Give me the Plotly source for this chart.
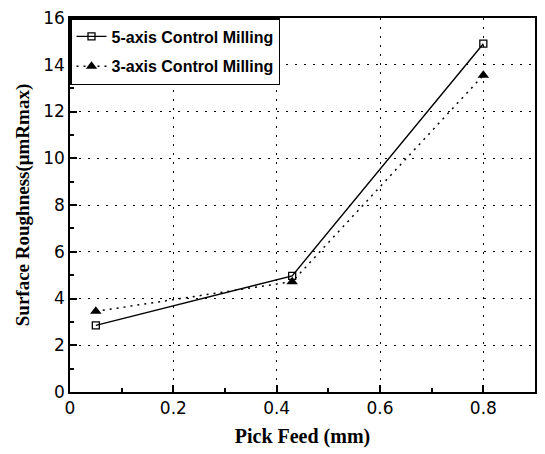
import plotly.graph_objects as go

pick_feed = [0.05, 0.43, 0.80]
rough_5axis = [2.85, 4.97, 14.9]
rough_3axis = [3.45, 4.72, 13.55]

x_ticks = [0, 0.2, 0.4, 0.6, 0.8]
x_tick_labels = ["0", "0.2", "0.4", "0.6", "0.8"]
y_ticks = [0, 2, 4, 6, 8, 10, 12, 14, 16]

fig = go.Figure()
fig.add_trace(go.Scatter(
    x=pick_feed, y=rough_5axis, mode="lines+markers",
    name="5-axis Control Milling", legendgroup="a",
    line=dict(color="black", width=1.4),
    marker=dict(symbol="square-open", size=7, color="black", line=dict(width=1.3)),
))
fig.add_trace(go.Scatter(
    x=pick_feed, y=rough_3axis, mode="lines+markers",
    name="3-axis Control Milling", legendgroup="b",
    line=dict(color="black", width=1.5, dash="2px,5px"),
    marker=dict(symbol="triangle-up", size=10, color="black"),
))

axis_common = dict(
    showline=True, linecolor="black", linewidth=1.5, mirror=True,
    ticks="inside", ticklen=7, tickwidth=1.5, tickcolor="black",
    showgrid=True, gridcolor="black", gridwidth=1, griddash="2px,7px",
    zeroline=False,
    tickfont=dict(family="DejaVu Sans, sans-serif", size=17, color="black"),
)

x_title_font = dict(family="Liberation Serif, Times New Roman, serif", size=20, color="black")
y_title_font = dict(family="Liberation Serif, Times New Roman, serif", size=19, color="black")

fig.update_xaxes(
    range=[0, 0.9], tickvals=x_ticks, ticktext=x_tick_labels,
    minor=dict(dtick=0.1, ticks="inside", ticklen=4, tickcolor="black", showgrid=False),
    title=dict(text="<b>Pick Feed (mm)</b>", standoff=12, font=x_title_font),
    **axis_common,
)
fig.update_yaxes(
    range=[0, 16], tickvals=y_ticks,
    minor=dict(dtick=1, ticks="inside", ticklen=4, tickcolor="black", showgrid=False),
    title=dict(text="<b>Surface Roughness(μmRmax)</b>", standoff=9, font=y_title_font),
    **axis_common,
)

fig.update_layout(
    width=545, height=454,
    margin=dict(l=70, r=8, t=14, b=62),
    paper_bgcolor="white", plot_bgcolor="white",
    showlegend=True,
    legend=dict(
        x=0, y=1, xanchor="left", yanchor="top",
        bgcolor="white", bordercolor="black", borderwidth=1.5,
        font=dict(family="Liberation Sans, Arial, sans-serif", size=16, color="black", weight="bold"),
        itemwidth=30, tracegroupgap=6,
    ),
    font=dict(family="Liberation Sans, Arial, sans-serif", color="black"),
)

fig.write_html("out.html")
